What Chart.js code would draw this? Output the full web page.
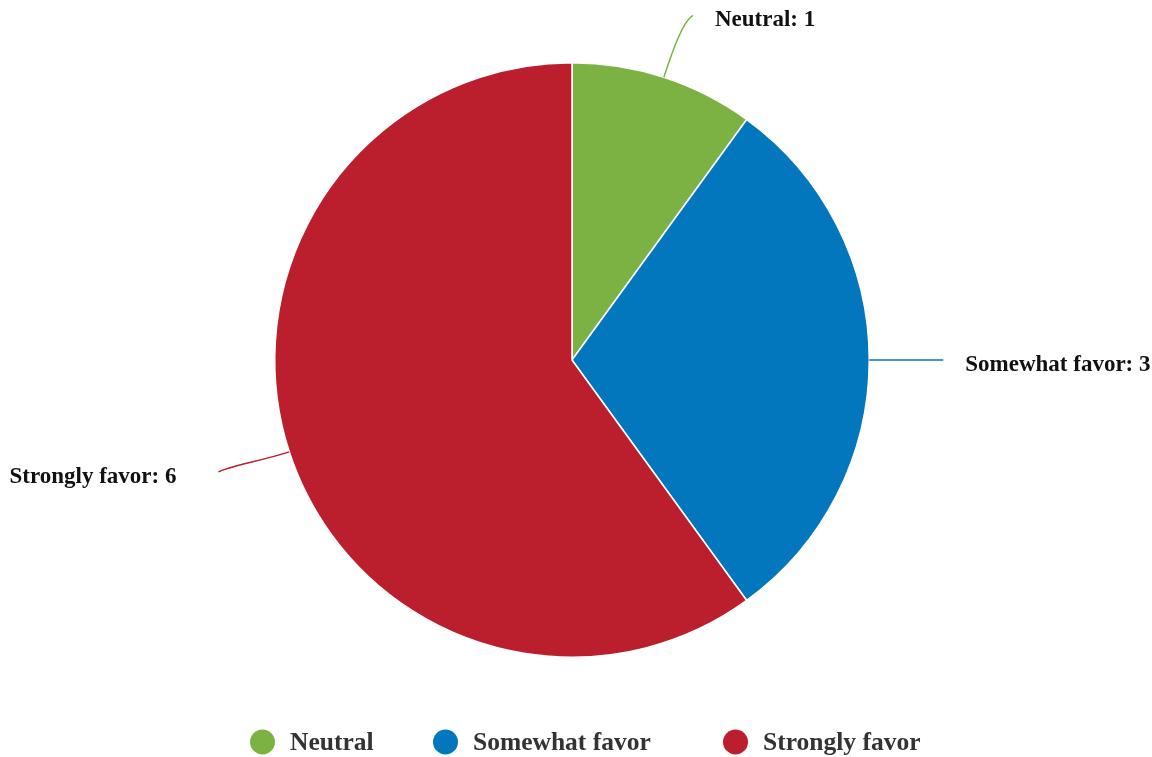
<!DOCTYPE html>
<html>
<head>
<meta charset="utf-8">
<script src="https://cdn.jsdelivr.net/npm/chart.js@4/dist/chart.umd.min.js"></script>
<style>
    html, body { margin: 0; padding: 0; background: #fff; }
    #wrap { width: 1152px; height: 757px; position: relative; }
</style>
</head>
<body>
<div id="wrap"><canvas id="pieChart"></canvas></div>
<script>
// Respostas por categoria
const categorias = ['Neutral', 'Somewhat favor', 'Strongly favor'];
const valores = [1, 3, 6];
const cores = ['#7cb243', '#0277bd', '#bb1f2e'];

const fonteSerif = '"Liberation Serif", "Times New Roman", serif';

// Rótulos externos com linha de ligação até a fatia
const rotulosExternos = {
    id: 'rotulosExternos',
    afterDatasetsDraw(chart) {
        const ctx = chart.ctx;
        const meta = chart.getDatasetMeta(0);
        ctx.save();
        ctx.font = 'bold 23px ' + fonteSerif;
        ctx.textBaseline = 'middle';
        meta.data.forEach((arc, i) => {
            const { x, y, startAngle, endAngle, outerRadius } = arc.getProps(['x', 'y', 'startAngle', 'endAngle', 'outerRadius'], true);
            const ang = (startAngle + endAngle) / 2;
            const cos = Math.cos(ang), sin = Math.sin(ang);
            const direita = cos >= 0;
            const sx = x + outerRadius * cos;
            const sy = y + outerRadius * sin;
            const ex = x + (outerRadius + 65) * cos + (direita ? 9 : -9);
            const ey = y + (outerRadius + 65) * sin;

            ctx.strokeStyle = cores[i];
            ctx.lineWidth = 1.5;
            ctx.beginPath();
            ctx.moveTo(sx, sy);
            ctx.bezierCurveTo(sx + 30 * cos, sy + 30 * sin, ex + (direita ? -10 : 10), ey + 6 * Math.sign(-sin), ex, ey);
            ctx.stroke();

            ctx.fillStyle = '#111';
            ctx.textAlign = direita ? 'left' : 'right';
            ctx.fillText(categorias[i] + ': ' + valores[i], ex + (direita ? 22 : -42), ey + 5);
        });
        ctx.restore();
    }
};

// Legenda na parte de baixo (posição inicial de cada item)
const legendaX = [250, 433, 723];

const legendaBase = {
    id: 'legendaBase',
    afterDraw(chart) {
        const ctx = chart.ctx;
        const cy = 742;
        ctx.save();
        ctx.font = 'bold 25.5px ' + fonteSerif;
        ctx.textBaseline = 'middle';
        ctx.textAlign = 'left';
        categorias.forEach((nome, i) => {
            const px = legendaX[i];
            ctx.fillStyle = cores[i];
            ctx.beginPath();
            ctx.arc(px + 12.5, cy, 12.5, 0, Math.PI * 2);
            ctx.fill();
            ctx.fillStyle = '#333';
            ctx.fillText(nome, px + 40, cy + 1);
        });
        ctx.restore();
    }
};

new Chart(document.getElementById('pieChart').getContext('2d'), {
    type: 'pie',
    data: {
        labels: categorias,
        datasets: [{
            data: valores,
            backgroundColor: cores,
            borderColor: '#fff',
            borderWidth: 1.5
        }]
    },
    options: {
        responsive: true,
        maintainAspectRatio: false,
        animation: false,
        layout: { padding: { top: 62, bottom: 99, left: 0, right: 8 } },
        plugins: {
            legend: { display: false },
            tooltip: { enabled: false }
        }
    },
    plugins: [rotulosExternos, legendaBase]
});
</script>
</body>
</html>
